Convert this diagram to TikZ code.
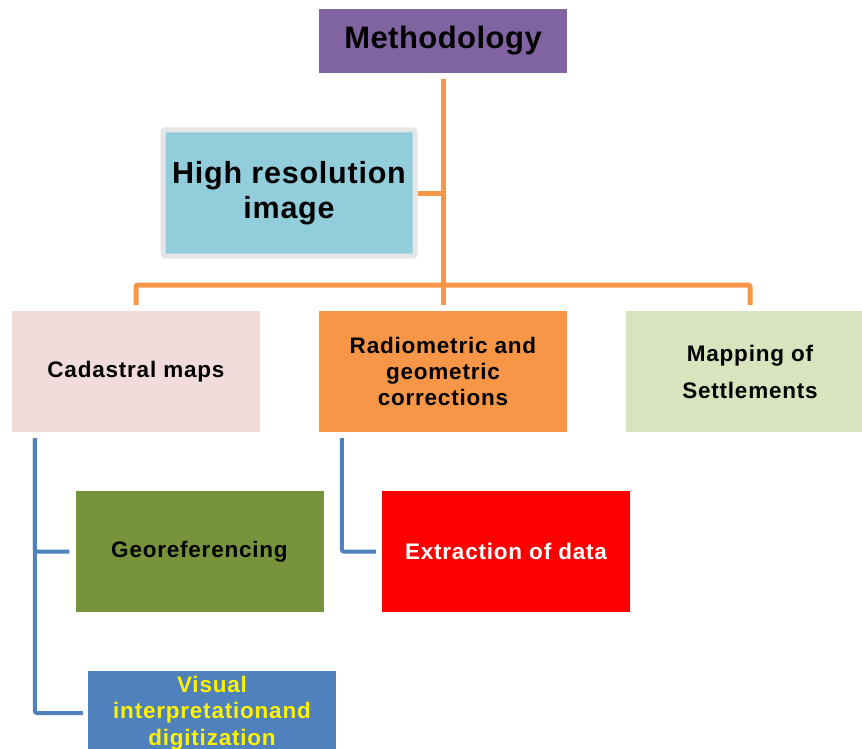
\documentclass[tikz,border=0pt]{standalone}
\usepackage{fontspec}
\setmainfont{Liberation Sans}
\newfontfamily\grandtitre[LetterSpace=1.5]{Liberation Sans}
\newfontfamily\titre[LetterSpace=2.5]{Liberation Sans}
\newfontfamily\etiquette[LetterSpace=3.5]{Liberation Sans}
\usetikzlibrary{positioning}
\definecolor{violetmeth}{HTML}{8064A2}
\definecolor{bleuimage}{HTML}{92CDDC}
\definecolor{roseclair}{HTML}{F2DCDB}
\definecolor{orangeradio}{HTML}{F79646}
\definecolor{vertclair}{HTML}{D7E4BD}
\definecolor{vertgeo}{HTML}{77933C}
\definecolor{bleuvisu}{HTML}{4F81BD}
\begin{document}
\begin{tikzpicture}[
    x=1pt, y=-1pt,
    boite/.style={
      minimum width=248pt,
      minimum height=121pt,
      inner sep=2pt,
      align=center,
      font=\etiquette\bfseries\fontsize{22.5}{26}\selectfont
    },
    lienorange/.style={draw=orangeradio, line width=5pt},
    lienbleu/.style={draw=bleuvisu, line width=4pt, rounded corners=2pt}
  ]
  \useasboundingbox (0,0) rectangle (862,749);
  \clip (0,0) rectangle (862,749);

  \node[boite, fill=violetmeth, minimum height=64pt,
    font=\grandtitre\bfseries\fontsize{31}{36}\selectfont] (meth) at (443,41) {Methodology};
  \node[boite, fill=bleuimage, draw=black!10, line width=5pt, rounded corners=2pt,
    minimum width=252pt, minimum height=126pt,
    font=\titre\bfseries\fontsize{30.5}{35}\selectfont] (image) at (289,193) {High resolution\\image};

  \node[boite, fill=roseclair] (cadastre) at (136,371.5) {Cadastral maps};
  \node[boite, fill=orangeradio] (radio) at (443,371.5) {Radiometric and\\geometric\\corrections};
  \node[boite, fill=vertclair, font=\etiquette\bfseries\fontsize{22.5}{37}\selectfont] (habitat) at (750,371.5) {Mapping of\\Settlements};

  \node[boite, fill=vertgeo] (georef) at (199.5,551.5) {Georeferencing};
  \node[boite, fill=red, text=white] (extraction) at (506,551.5) {Extraction of data};
  \node[boite, fill=bleuvisu, text=yellow, anchor=north,
    font=\etiquette\bfseries\fontsize{22.5}{26.5}\selectfont] (visuel) at (212,671) {\rule{0pt}{19pt}Visual\\interpretationand\\digitization\\[34pt]};

  % liens oranges
  \coordinate (barre) at (443,285);
  \draw[lienorange, shorten <=6pt, shorten >=6pt] (meth.south) -- (radio.north);
  \draw[lienorange] (image.east) -- (image.east -| meth.south);
  \draw[lienorange, shorten <=6pt, shorten >=6pt, rounded corners=2pt]
    (cadastre.north) -- (cadastre.north |- barre) -- (habitat.north |- barre) -- (habitat.north);

  % liens bleus
  \draw[lienbleu, shorten >=6pt] ([xshift=23pt,yshift=-6pt]cadastre.south west) |- (georef.west);
  \draw[lienbleu, shorten >=5pt] ([xshift=23pt,yshift=-6pt]cadastre.south west) |- ([yshift=-42pt]visuel.north west);
  \draw[lienbleu, shorten >=6pt] ([xshift=23pt,yshift=-6pt]radio.south west) |- (extraction.west);
\end{tikzpicture}
\end{document}
